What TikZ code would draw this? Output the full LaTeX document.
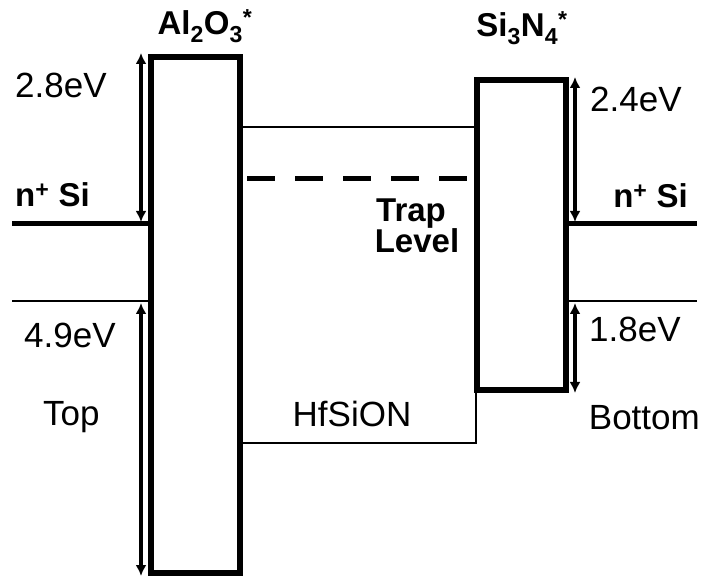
\documentclass[tikz,border=0pt]{standalone}
\usepackage{fontspec}
\setmainfont{Liberation Sans}
\usetikzlibrary{arrows.meta}

\begin{document}
\begin{tikzpicture}[x=1pt,y=-1pt,>={Latex[length=11pt,width=11pt]},
  lbl/.style={inner sep=0pt,font=\fontsize{35}{38}\selectfont},
  blbl/.style={lbl,font=\fontsize{33}{36}\selectfont\bfseries},
  gap/.style={<->,line width=4pt}]
\useasboundingbox (0,0) rectangle (702,577);
% barriers and HfSiON well
\draw[line width=6pt] (151,57) rectangle (240,573);\draw[line width=6pt] (477,80) rectangle (566,390);
\draw[line width=2.5pt] (240,127)--(474,127);\draw[line width=2.5pt] (240,443)-|(476,393);
\draw[line width=5pt,dash pattern=on 28pt off 20pt] (247,179)--(470,179);
% electrode levels
\draw[line width=5pt] (12,224)--(148,224);\draw[line width=2.5pt] (12,301)--(148,301);
\draw[line width=5pt] (569,224)--(697,224);\draw[line width=2.5pt] (569,301)--(697,301);
% offsets
\coordinate (lA) at (141,53);\coordinate (lB) at (141,222);\coordinate (lC) at (141,303);\coordinate (lD) at (141,576);
\coordinate (rA) at (575,77);\coordinate (rB) at (575,222);\coordinate (rC) at (575,303);\coordinate (rD) at (575,393);
\draw[gap] (lA)--(lB);\draw[gap] (lC)--(lD);\draw[gap] (rA)--(rB);\draw[gap] (rC)--(rD);
% labels
\node[blbl,anchor=base] (al) at (205,35) {Al\textsubscript{2}O\textsubscript{3}\textsuperscript{*}};
\node[blbl,anchor=base] (sn) at (522,37) {Si\textsubscript{3}N\textsubscript{4}\textsuperscript{*}};
\node[lbl,anchor=base west] (e28) at (15,98) {2.8eV};\node[blbl,anchor=base west] (nl) at (15,207) {n\textsuperscript{+} Si};
\node[lbl,anchor=base west] (e49) at (24,348) {4.9eV};\node[lbl,anchor=base west] (top) at (43,425) {Top};
\node[lbl,anchor=base west] (e24) at (590,112) {2.4eV};\node[blbl,anchor=base east] (nr) at (688,208) {n\textsuperscript{+} Si};
\node[lbl,anchor=base west] (e18) at (589,342) {1.8eV};\node[lbl,anchor=base east] (bot) at (700,430) {Bottom};
\node[blbl,anchor=base] (trap) at (411,222) {Trap};\node[blbl,anchor=base] (lev) at (417,253) {Level};
\node[lbl,anchor=base] (hf) at (352,427) {HfSiON};
\end{tikzpicture}
\end{document}
